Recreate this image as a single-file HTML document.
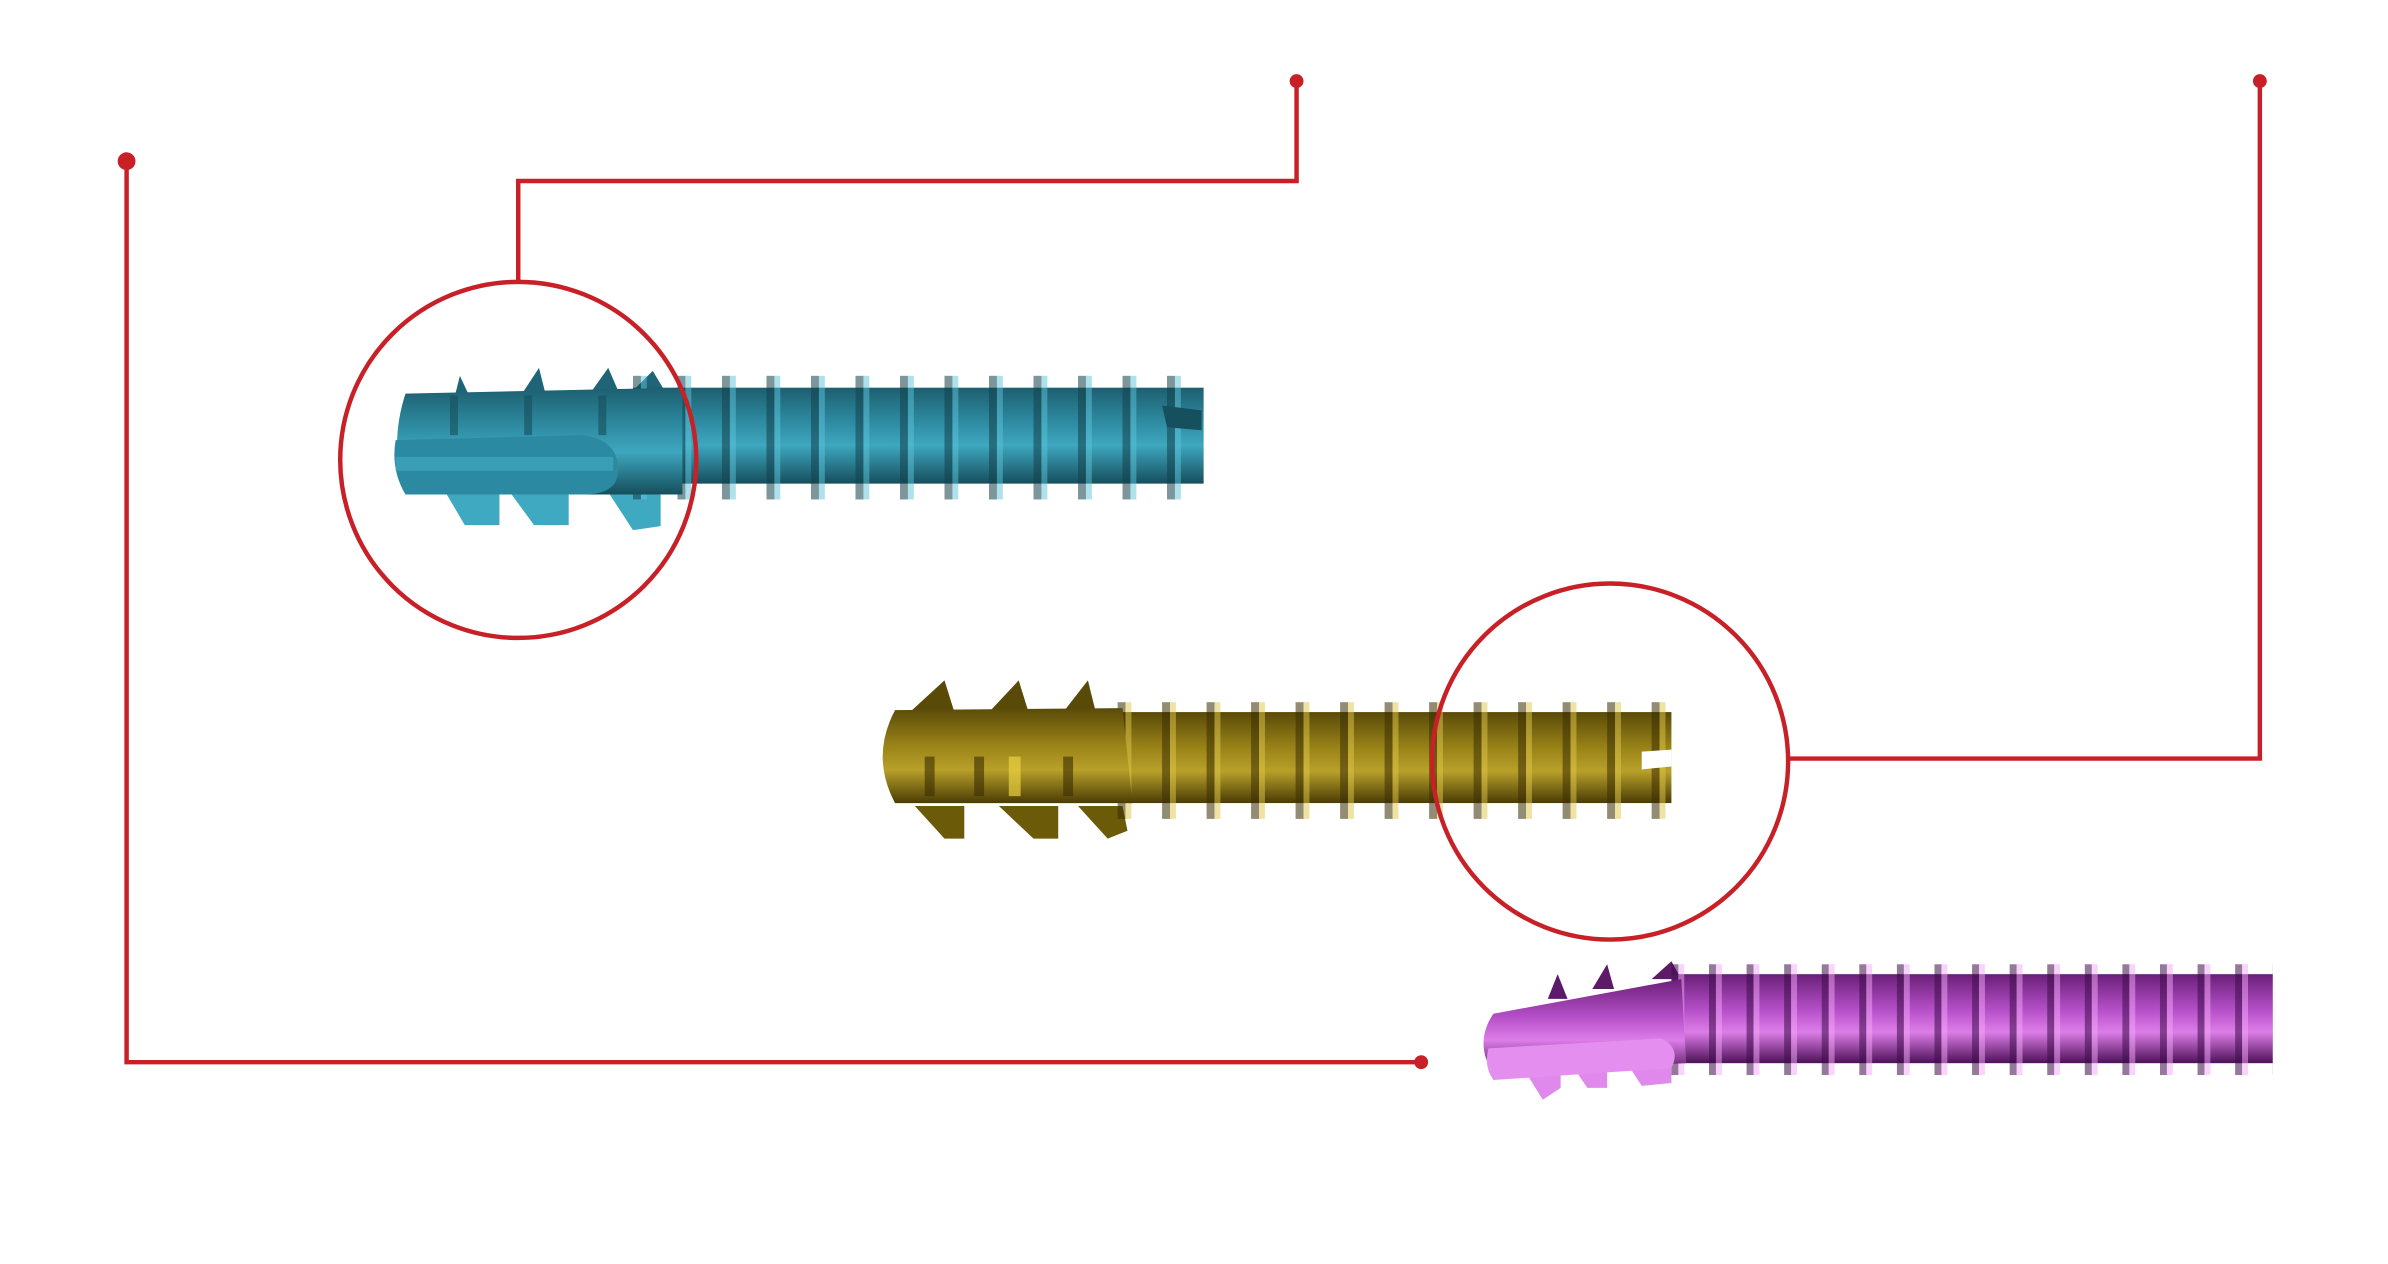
<!DOCTYPE html>
<html><head><meta charset="utf-8"><style>html,body{margin:0;padding:0;background:#fff}svg{display:block}</style></head>
<body>
<svg width="2388" height="1264" viewBox="0 0 2388 1264" xmlns="http://www.w3.org/2000/svg">
<defs>
<linearGradient id="gb" x1="0" y1="0" x2="0" y2="1">
<stop offset="0" stop-color="#1d5f70"/><stop offset=".35" stop-color="#2d8aa0"/><stop offset=".6" stop-color="#3ea7bf"/><stop offset="1" stop-color="#164e5c"/></linearGradient>
<linearGradient id="gg" x1="0" y1="0" x2="0" y2="1">
<stop offset="0" stop-color="#5a4a08"/><stop offset=".4" stop-color="#9a8418"/><stop offset=".65" stop-color="#b8a02a"/><stop offset="1" stop-color="#4a3c05"/></linearGradient>
<linearGradient id="gp" x1="0" y1="0" x2="0" y2="1">
<stop offset="0" stop-color="#6a1f78"/><stop offset=".4" stop-color="#b54fc8"/><stop offset=".65" stop-color="#dd7de8"/><stop offset="1" stop-color="#4d1158"/></linearGradient>
<pattern id="tb" x="640" y="0" width="45" height="20" patternUnits="userSpaceOnUse">
<rect x="0" y="0" width="8" height="20" fill="#123f4b" opacity=".55"/><rect x="8" y="0" width="6" height="20" fill="#5cc3da" opacity=".5"/></pattern>
<pattern id="tg" x="1130" y="0" width="45" height="20" patternUnits="userSpaceOnUse">
<rect x="0" y="0" width="8" height="20" fill="#3a2e02" opacity=".55"/><rect x="8" y="0" width="6" height="20" fill="#e0c84a" opacity=".5"/></pattern>
<pattern id="tp" x="1690" y="0" width="38" height="20" patternUnits="userSpaceOnUse">
<rect x="0" y="0" width="7" height="20" fill="#3c0a48" opacity=".55"/><rect x="7" y="0" width="6" height="20" fill="#f3a8f8" opacity=".5"/></pattern>
</defs>
<g transform="scale(0.989)">
<!-- connectors -->
<g stroke="#c82027" stroke-width="4.5" fill="none">
<polyline points="128,163 128,1074 1437,1074"/>
<polyline points="524,285 524,183 1311,183 1311,82"/>
<polyline points="1808,767 2285,767 2285,82"/>
</g>
<g fill="#c82027">
<circle cx="128" cy="163" r="9"/><circle cx="1311" cy="82" r="7"/><circle cx="2285" cy="82" r="7"/><circle cx="1437" cy="1074" r="7"/>
</g>

<!-- blue screw -->
<g>
<polygon points="440,480 470,531 505,531 505,490" fill="#3fa9c2"/>
<polygon points="510,490 540,531 575,531 575,490" fill="#3fa9c2"/>
<polygon points="610,490 640,536 668,532 668,490" fill="#3fa9c2"/>
<polygon points="455,420 465,380 480,412" fill="#1f6577"/>
<polygon points="520,410 545,372 552,400" fill="#1f6577"/>
<polygon points="595,400 615,372 625,395" fill="#1f6577"/>
<polygon points="640,395 660,375 675,400" fill="#1f6577"/>
<rect x="640" y="392" width="577" height="97" fill="url(#gb)"/>
<rect x="640" y="380" width="577" height="125" fill="url(#tb)"/>
<path d="M410,398 L690,392 L690,500 L410,500 Q393,450 410,398Z" fill="url(#gb)"/>
<path d="M400,445 L590,440 Q625,445 625,475 Q625,500 590,500 L410,500 Q395,475 400,445Z" fill="#2b8aa1"/>
<rect x="400" y="462" width="220" height="14" fill="#49b3cb" opacity=".5"/>
<rect x="455" y="400" width="8" height="40" fill="#164e5c" opacity=".6"/>
<rect x="530" y="400" width="8" height="40" fill="#164e5c" opacity=".6"/>
<rect x="605" y="400" width="8" height="40" fill="#164e5c" opacity=".6"/>
<path d="M1175,410 L1215,415 L1215,435 L1180,432Z" fill="#16505f"/>
</g>

<!-- gold screw -->
<g>
<polygon points="925,815 955,848 975,848 975,815" fill="#6b5a08"/>
<polygon points="1010,815 1045,848 1070,848 1070,815" fill="#6b5a08"/>
<polygon points="1090,815 1120,848 1140,840 1135,815" fill="#6b5a08"/>
<polygon points="920,720 955,688 965,720" fill="#5a4a08"/>
<polygon points="1000,720 1030,688 1040,720" fill="#5a4a08"/>
<polygon points="1075,720 1100,688 1108,720" fill="#5a4a08"/>
<rect x="1130" y="720" width="560" height="92" fill="url(#gg)"/>
<rect x="1130" y="710" width="560" height="118" fill="url(#tg)"/>
<path d="M905,718 L1135,716 L1145,812 L905,812 Q880,765 905,718Z" fill="url(#gg)"/>
<rect x="935" y="765" width="10" height="40" fill="#3a2e02" opacity=".6"/>
<rect x="985" y="765" width="10" height="40" fill="#3a2e02" opacity=".6"/>
<rect x="1020" y="765" width="12" height="40" fill="#e8d040" opacity=".7"/>
<rect x="1075" y="765" width="10" height="40" fill="#3a2e02" opacity=".6"/>
<path d="M1660,760 L1690,758 L1690,775 L1660,778Z" fill="#fff"/>
</g>

<!-- purple screw -->
<g>
<polygon points="1540,1080 1560,1112 1578,1100 1578,1080" fill="#e089ec"/>
<polygon points="1590,1078 1605,1100 1625,1100 1625,1078" fill="#e089ec"/>
<polygon points="1645,1075 1660,1098 1690,1095 1690,1072" fill="#e089ec"/>
<polygon points="1565,1010 1575,985 1585,1010" fill="#5c1a68"/>
<polygon points="1610,1000 1625,975 1632,1000" fill="#5c1a68"/>
<polygon points="1670,990 1690,972 1700,990" fill="#5c1a68"/>
<rect x="1690" y="985" width="608" height="90" fill="url(#gp)"/>
<rect x="1690" y="975" width="608" height="112" fill="url(#tp)"/>
<path d="M1510,1025 L1700,990 L1705,1075 L1510,1085 Q1490,1055 1510,1025Z" fill="url(#gp)"/>
<path d="M1505,1060 L1680,1050 Q1700,1060 1690,1080 L1510,1092 Q1500,1078 1505,1060Z" fill="#e48ff0"/>
</g>

<!-- circles -->
<g stroke="#c82027" stroke-width="4.5" fill="none">
<circle cx="524" cy="465" r="180"/>
<circle cx="1628" cy="770" r="180"/>
</g>
</g>
</svg>
</body></html>
